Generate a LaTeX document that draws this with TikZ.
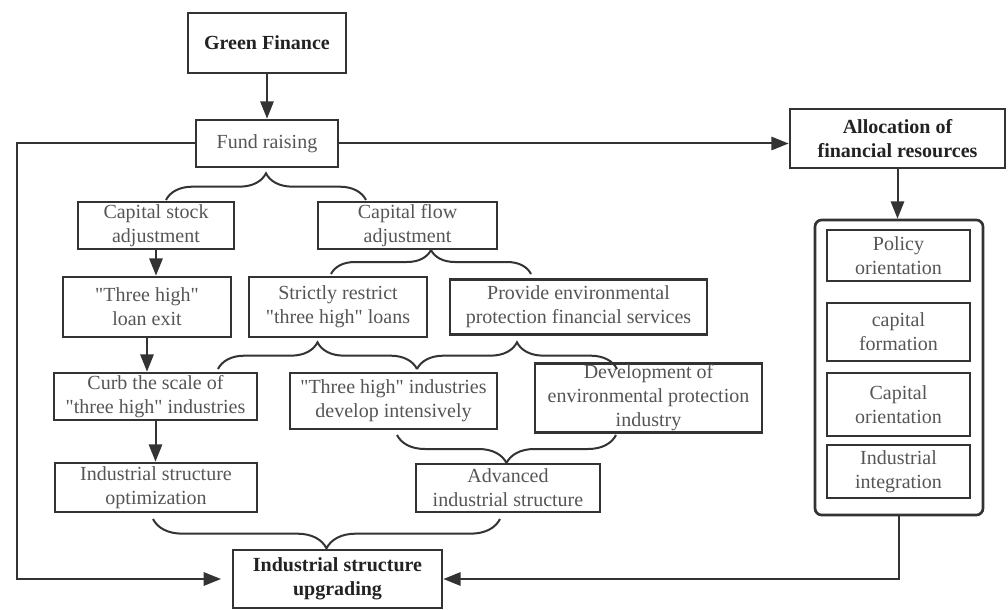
\documentclass[tikz,border=0pt]{standalone}
\usepackage{fontspec}
\setmainfont{Liberation Serif}[Ligatures=TeXOff]
\usetikzlibrary{positioning, calc, arrows.meta, decorations.pathreplacing}
\definecolor{xline}{HTML}{333333}
\definecolor{xtext}{HTML}{555555}
\definecolor{xbold}{HTML}{222222}
\tikzset{
	box/.style 2 args={draw=xline, line width=2pt, text=xtext, align=center,
		minimum width=#1*0.75pt, minimum height=#2*0.75pt, inner sep=1pt,
		font=\fontsize{15}{18}\selectfont},
	keybox/.style={text=xbold, font=\fontsize{15}{18}\selectfont\bfseries},
	link/.style={draw=xline, line width=1.5pt, -{Triangle[length=13pt, width=10pt]}},
	brc/.style={draw=xline, line width=1.5pt, decorate, decoration={brace, amplitude=#1}},
}

\begin{document}
\begin{tikzpicture}[x=0.75pt, y=-0.75pt]
		\useasboundingbox (0,0) rectangle (1008,610);

		% main column
		\node[box={158}{60}, keybox] (green) at (267,43) {Green Finance};
		\node[box={142}{47}] (fund) at (267,143.5) {Fund raising};
		\node[box={215}{59}, keybox] (alloc) at (897.5,138.5) {Allocation of\\financial resources};

		% allocation channels
		\node[box={168}{295}, rounded corners=5pt] (outer) at (899,367.5) {};
		\node[box={143}{51}] (policy) at (898.5,255.5) {Policy\\orientation};
		\node[box={143}{58}] (formation) at (898.5,332) {capital\\formation};
		\node[box={143}{63}] (orient) at (898.5,404.5) {Capital\\orientation};
		\node[box={143}{53}] (integr) at (898.5,471.5) {Industrial\\integration};

		% adjustment paths
		\node[box={156}{47}] (stock) at (156,225.5) {Capital stock\\adjustment};
		\node[box={179}{47}] (flow) at (407.5,225.5) {Capital flow\\adjustment};
		\node[box={168}{60}] (loanexit) at (147,307) {"Three high"\\loan exit};
		\node[box={178}{60}] (restrict) at (338,307) {Strictly restrict\\"three high" loans};
		\node[box={257}{55}] (provide) at (578.5,307) {Provide environmental\\protection financial services};
		\node[box={203}{47}] (curb) at (155.5,396.5) {Curb the scale of\\"three high" industries};
		\node[box={207}{56}] (intens) at (393.5,401) {"Three high" industries\\develop intensively};
		\node[box={227}{60}] (envind) at (648.5,398) {Development of\\environmental protection\\industry};
		\node[box={202}{49}] (optim) at (156,487.5) {Industrial structure\\optimization};
		\node[box={184}{48}] (advanced) at (508,488) {Advanced\\industrial structure};
		\node[box={209}{58}, keybox] (upg) at (337.5,579) {Industrial structure\\upgrading};

		% brace ends
		\coordinate (fundL) at (166,200);
		\coordinate (fundR) at (366,200);
		\coordinate (flowL) at (331,274);
		\coordinate (flowR) at (531,274);
		\coordinate (restrictL) at (218,369);
		\coordinate (mid) at (417,369);
		\coordinate (provideR) at (617,369);
		\coordinate (intensL) at (397,435);
		\coordinate (envindR) at (616,435);
		\coordinate (optimL) at (153,519);
		\coordinate (advancedR) at (500,519);
		\coordinate (lft) at (17,143.5);

		\draw[brc=20pt] (fundL) -- (fundR);
		\draw[brc=18pt] (flowL) -- (flowR);
		\draw[brc=20pt] (restrictL) -- (mid);
		\draw[brc=20pt] (mid) -- (provideR);
		\draw[brc=21pt] (envindR) -- (intensL);
		\draw[brc=22pt] (advancedR) -- (optimL);

		\draw[link] (green) -- (fund);
		\draw[link] (fund.east) -- (fund.east -| alloc.west);
		\draw[link] (alloc.south) -- (alloc.south |- outer.north);
		\draw[link] (stock.south) -- (stock.south |- loanexit.north);
		\draw[link] (loanexit.south) -- (loanexit.south |- curb.north);
		\draw[link] (curb.south) -- (curb.south |- optim.north);
		\draw[link, shorten >=8pt] (fund.west) -- (lft) |- (upg.west);
		\draw[link] (outer.south) |- (upg.east);
	\end{tikzpicture}
\end{document}
